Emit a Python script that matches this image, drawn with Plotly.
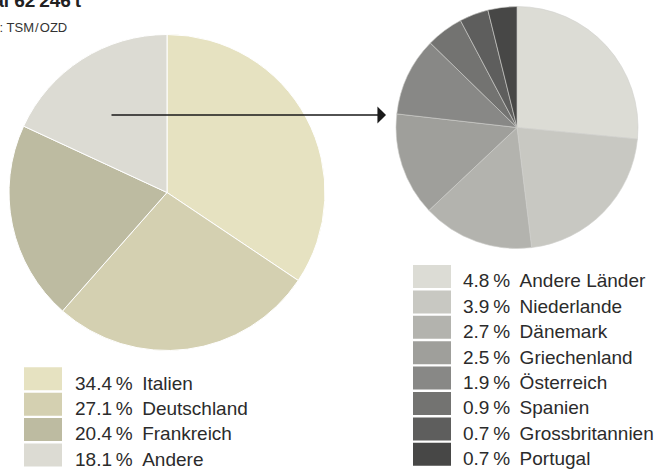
import plotly.graph_objects as go

W, H = 659, 469

# ---- data ----
main_labels = ["Italien", "Deutschland", "Frankreich", "Andere"]
main_values = [34.4, 27.1, 20.4, 18.1]
main_colors = ["#E6E2C1", "#D4D0B1", "#BDBBA1", "#DCDBD3"]

other_labels = ["Andere Länder", "Niederlande", "Dänemark", "Griechenland",
                "Österreich", "Spanien", "Grossbritannien", "Portugal"]
other_values = [4.8, 3.9, 2.7, 2.5, 1.9, 0.9, 0.7, 0.7]
other_colors = ["#DCDCD5", "#C8C8C2", "#B3B3AE", "#9F9F9B",
                "#888886", "#737371", "#5E5E5D", "#474746"]

title_text = "Total 62\u2009246\u2009t"
source_text = "Quelle: TSM\u200a/\u200aOZD"

FONT = "Liberation Sans, Arial, sans-serif"
TXT = "#2b2b2b"


def px_x(x):
    return x / W


def px_y(y):
    return 1 - y / H


fig = go.Figure()

fig.add_trace(go.Pie(
    labels=main_labels, values=main_values, sort=False, direction="clockwise",
    rotation=0, marker=dict(colors=main_colors, line=dict(color="white", width=1)),
    textinfo="none", showlegend=False, hoverinfo="label+value",
    domain=dict(x=[px_x(9), px_x(325)], y=[px_y(350.5), px_y(34.5)]),
))

fig.add_trace(go.Pie(
    labels=other_labels, values=other_values, sort=False, direction="clockwise",
    rotation=0, marker=dict(colors=other_colors, line=dict(color="#d0d0cc", width=0.6)),
    textinfo="none", showlegend=False, hoverinfo="label+value",
    domain=dict(x=[px_x(396), px_x(638)], y=[px_y(248.5), px_y(6.5)]),
))

shapes = []
annotations = []

# legends
def add_legend(labels, values, colors, sx, tx, top0, step=25.4):
    for i, (lab, val, col) in enumerate(zip(labels, values, colors)):
        top = top0 + i * step
        shapes.append(dict(type="rect", xref="paper", yref="paper",
                           x0=px_x(sx), x1=px_x(sx + 38),
                           y0=px_y(top + 23), y1=px_y(top),
                           fillcolor=col, line=dict(width=0)))
        annotations.append(dict(
            xref="paper", yref="paper", x=px_x(tx), y=px_y(top + 15.8),
            xanchor="left", yanchor="middle", showarrow=False,
            text=f"{val:.1f}\u2009%\u2002{lab}",
            font=dict(family=FONT, size=19, color=TXT)))

add_legend(main_labels, main_values, main_colors, 24, 73, 367.3)
add_legend(other_labels, other_values, other_colors, 413, 461, 265)

# title and source (cut at left edge like the reference)
annotations.append(dict(xref="paper", yref="paper", x=px_x(84), y=px_y(13.5),
                        xanchor="right", yanchor="bottom", showarrow=False,
                        text=f"<b>{title_text}</b>",
                        font=dict(family=FONT, size=19, color="#222")))
annotations.append(dict(xref="paper", yref="paper", x=px_x(69), y=px_y(28),
                        xanchor="right", yanchor="middle", showarrow=False,
                        text=source_text,
                        font=dict(family=FONT, size=13, color="#333")))

# arrow
annotations.append(dict(xref="paper", yref="paper", x=px_x(386), y=px_y(115),
                        axref="pixel", ayref="pixel", ax=-276, ay=0,
                        showarrow=True, arrowhead=1, arrowsize=1.9,
                        arrowwidth=1.5, arrowcolor="#1a1a1a", text=""))

fig.update_layout(
    width=W, height=H, margin=dict(l=0, r=0, t=0, b=0),
    paper_bgcolor="white", plot_bgcolor="white",
    shapes=shapes, annotations=annotations,
)

fig.write_html("out.html", config={"displayModeBar": False},
               post_script="document.body.style.margin='0';document.body.style.overflow='hidden';")
